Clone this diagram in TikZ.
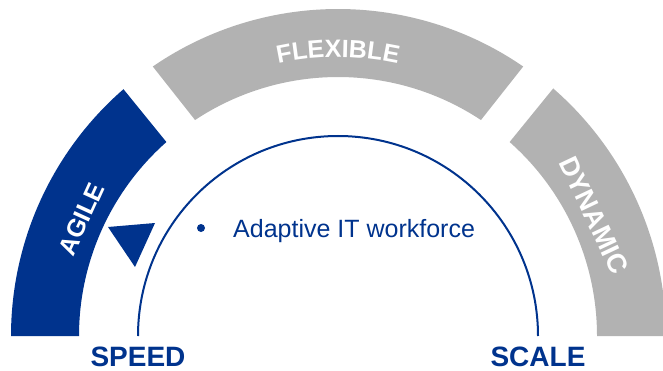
\documentclass[tikz,border=0pt]{standalone}
\usepackage{fontspec}
\setmainfont{Liberation Sans}
\usetikzlibrary{positioning,decorations.text}
\definecolor{kblue}{RGB}{0,51,141}
\definecolor{kgrey}{RGB}{178,178,178}

\begin{document}
\begin{tikzpicture}[x=1pt,y=1pt,
    band/.style={white,font=\fontsize{25}{25}\selectfont\bfseries,inner sep=0},
    pole/.style={kblue,font=\fontsize{28}{28}\selectfont\bfseries,inner sep=0,anchor=base}]
    \useasboundingbox (0,0) rectangle (663,370);

    \begin{scope}[shift={(338,34)}]
        % the three bands
        \fill[kblue] (180:327) arc (180:131:327) -- (131.5:259) arc (131.5:180:259) -- cycle;
        \fill[kgrey] (124.5:327) arc (124.5:55.5:327) -- (56.5:259) arc (56.5:123.5:259) -- cycle;
        \fill[kgrey] (49:328) arc (49:0:328) -- (0:259) arc (0:48.5:259) -- cycle;

        \node[band,rotate=65.5] (agile) at (155.5:282) {AGILE};
        \node[band,rotate=-64.7,font=\fontsize{27}{27}\selectfont\bfseries] (dynamic) at (25.3:283) {DYNAMIC};
        \path[decorate,decoration={text along path,text align=center,text color=white,
            text={|\fontsize{25}{25}\selectfont\bfseries|FLEXIBLE}}] (124:279) arc (124:56:279);

        % inner arc
        \coordinate (left) at (180:200);
        \coordinate (right) at (0:200);
        \draw[kblue,line width=2] (left) arc (180:0:200);

        % pointer
        \fill[kblue] (-230,109) -- (-183,113) -- (-203,69) -- cycle;
    \end{scope}

    \fill[kblue] (201,142) circle (4);
    \node[kblue,anchor=base west,inner sep=0,font=\fontsize{25}{25}\selectfont] (item) at (233,133) {Adaptive IT workforce};

    \node[pole] (speed) at (left |- 0,4) {SPEED};
    \node[pole] (scale) at (right |- 0,4) {SCALE};
\end{tikzpicture}
\end{document}
